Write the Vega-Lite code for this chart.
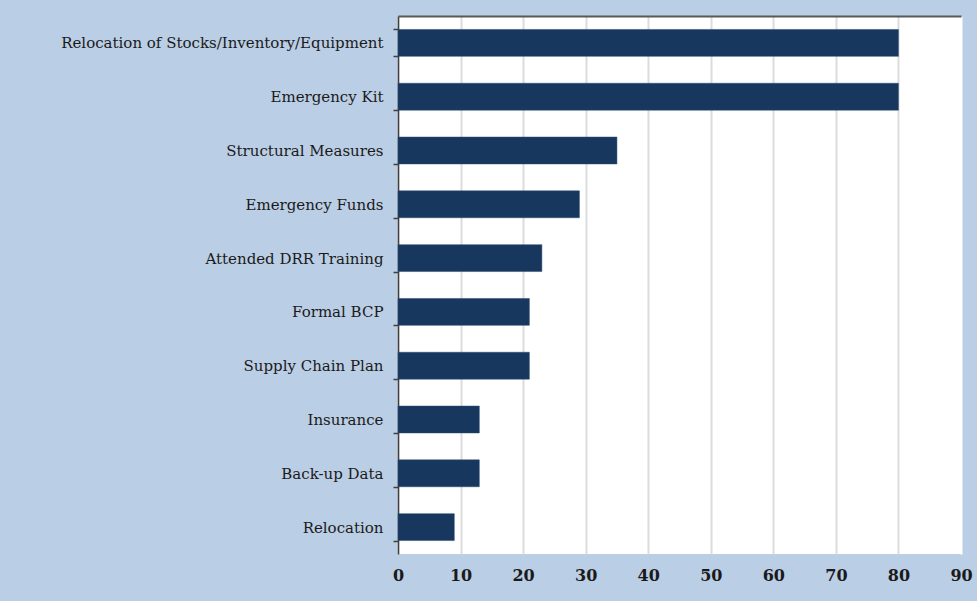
{
  "$schema": "https://vega.github.io/schema/vega-lite/v6.json",
  "autosize": "none",
  "width": 563,
  "height": 538,
  "padding": {"left": 398, "top": 16, "right": 16, "bottom": 47},
  "background": "#bacee5",
  "config": {
    "view": {"fill": "white", "stroke": null},
    "axis": {"labelFont": "DejaVu Serif", "labelColor": "#1a1a1a"}
  },
  "data": {
    "values": [
      {"measure": "Relocation of Stocks/Inventory/Equipment", "value": 80},
      {"measure": "Emergency Kit", "value": 80},
      {"measure": "Structural Measures", "value": 35},
      {"measure": "Emergency Funds", "value": 29},
      {"measure": "Attended DRR Training", "value": 23},
      {"measure": "Formal BCP", "value": 21},
      {"measure": "Supply Chain Plan", "value": 21},
      {"measure": "Insurance", "value": 13},
      {"measure": "Back-up Data", "value": 13},
      {"measure": "Relocation", "value": 9}
    ]
  },
  "layer": [
    {
      "mark": {"type": "bar", "color": "#17375e", "stroke": "#2c4a70", "strokeWidth": 0.5},
      "encoding": {
        "y": {
          "field": "measure",
          "type": "nominal",
          "sort": null,
          "scale": {"paddingInner": 0.5, "paddingOuter": 0.25},
          "axis": {
            "title": null,
            "tickBand": "extent",
            "domainColor": "#404040",
            "domainWidth": 1.5,
            "tickColor": "#404040",
            "tickWidth": 1.5,
            "tickSize": 5,
            "labelFontSize": 15,
            "labelLimit": 0,
            "labelPadding": 10
          }
        },
        "x": {
          "field": "value",
          "type": "quantitative",
          "scale": {"domain": [0, 90], "nice": false},
          "axis": {
            "title": null,
            "values": [0, 10, 20, 30, 40, 50, 60, 70, 80, 90],
            "domain": false,
            "ticks": false,
            "grid": true,
            "gridColor": {"condition": {"test": "datum.value === 90", "value": "white"}, "value": "#dcdcdc"},
            "gridWidth": 2,
            "labelFontSize": 16,
            "labelFontWeight": "bold",
            "labelPadding": 21,
            "labelBaseline": "middle",
            "labelFlush": false
          }
        }
      }
    },
    {
      "mark": {"type": "rule", "opacity": 0},
      "encoding": {
        "x": {
          "datum": 0,
          "type": "quantitative",
          "scale": {"domain": [0, 90], "nice": false},
          "axis": {
            "orient": "top",
            "labels": false,
            "ticks": false,
            "grid": false,
            "title": null,
            "domainColor": "#595959",
            "domainWidth": 2
          }
        }
      }
    }
  ],
  "resolve": {"axis": {"x": "independent"}, "scale": {"x": "independent"}}
}
